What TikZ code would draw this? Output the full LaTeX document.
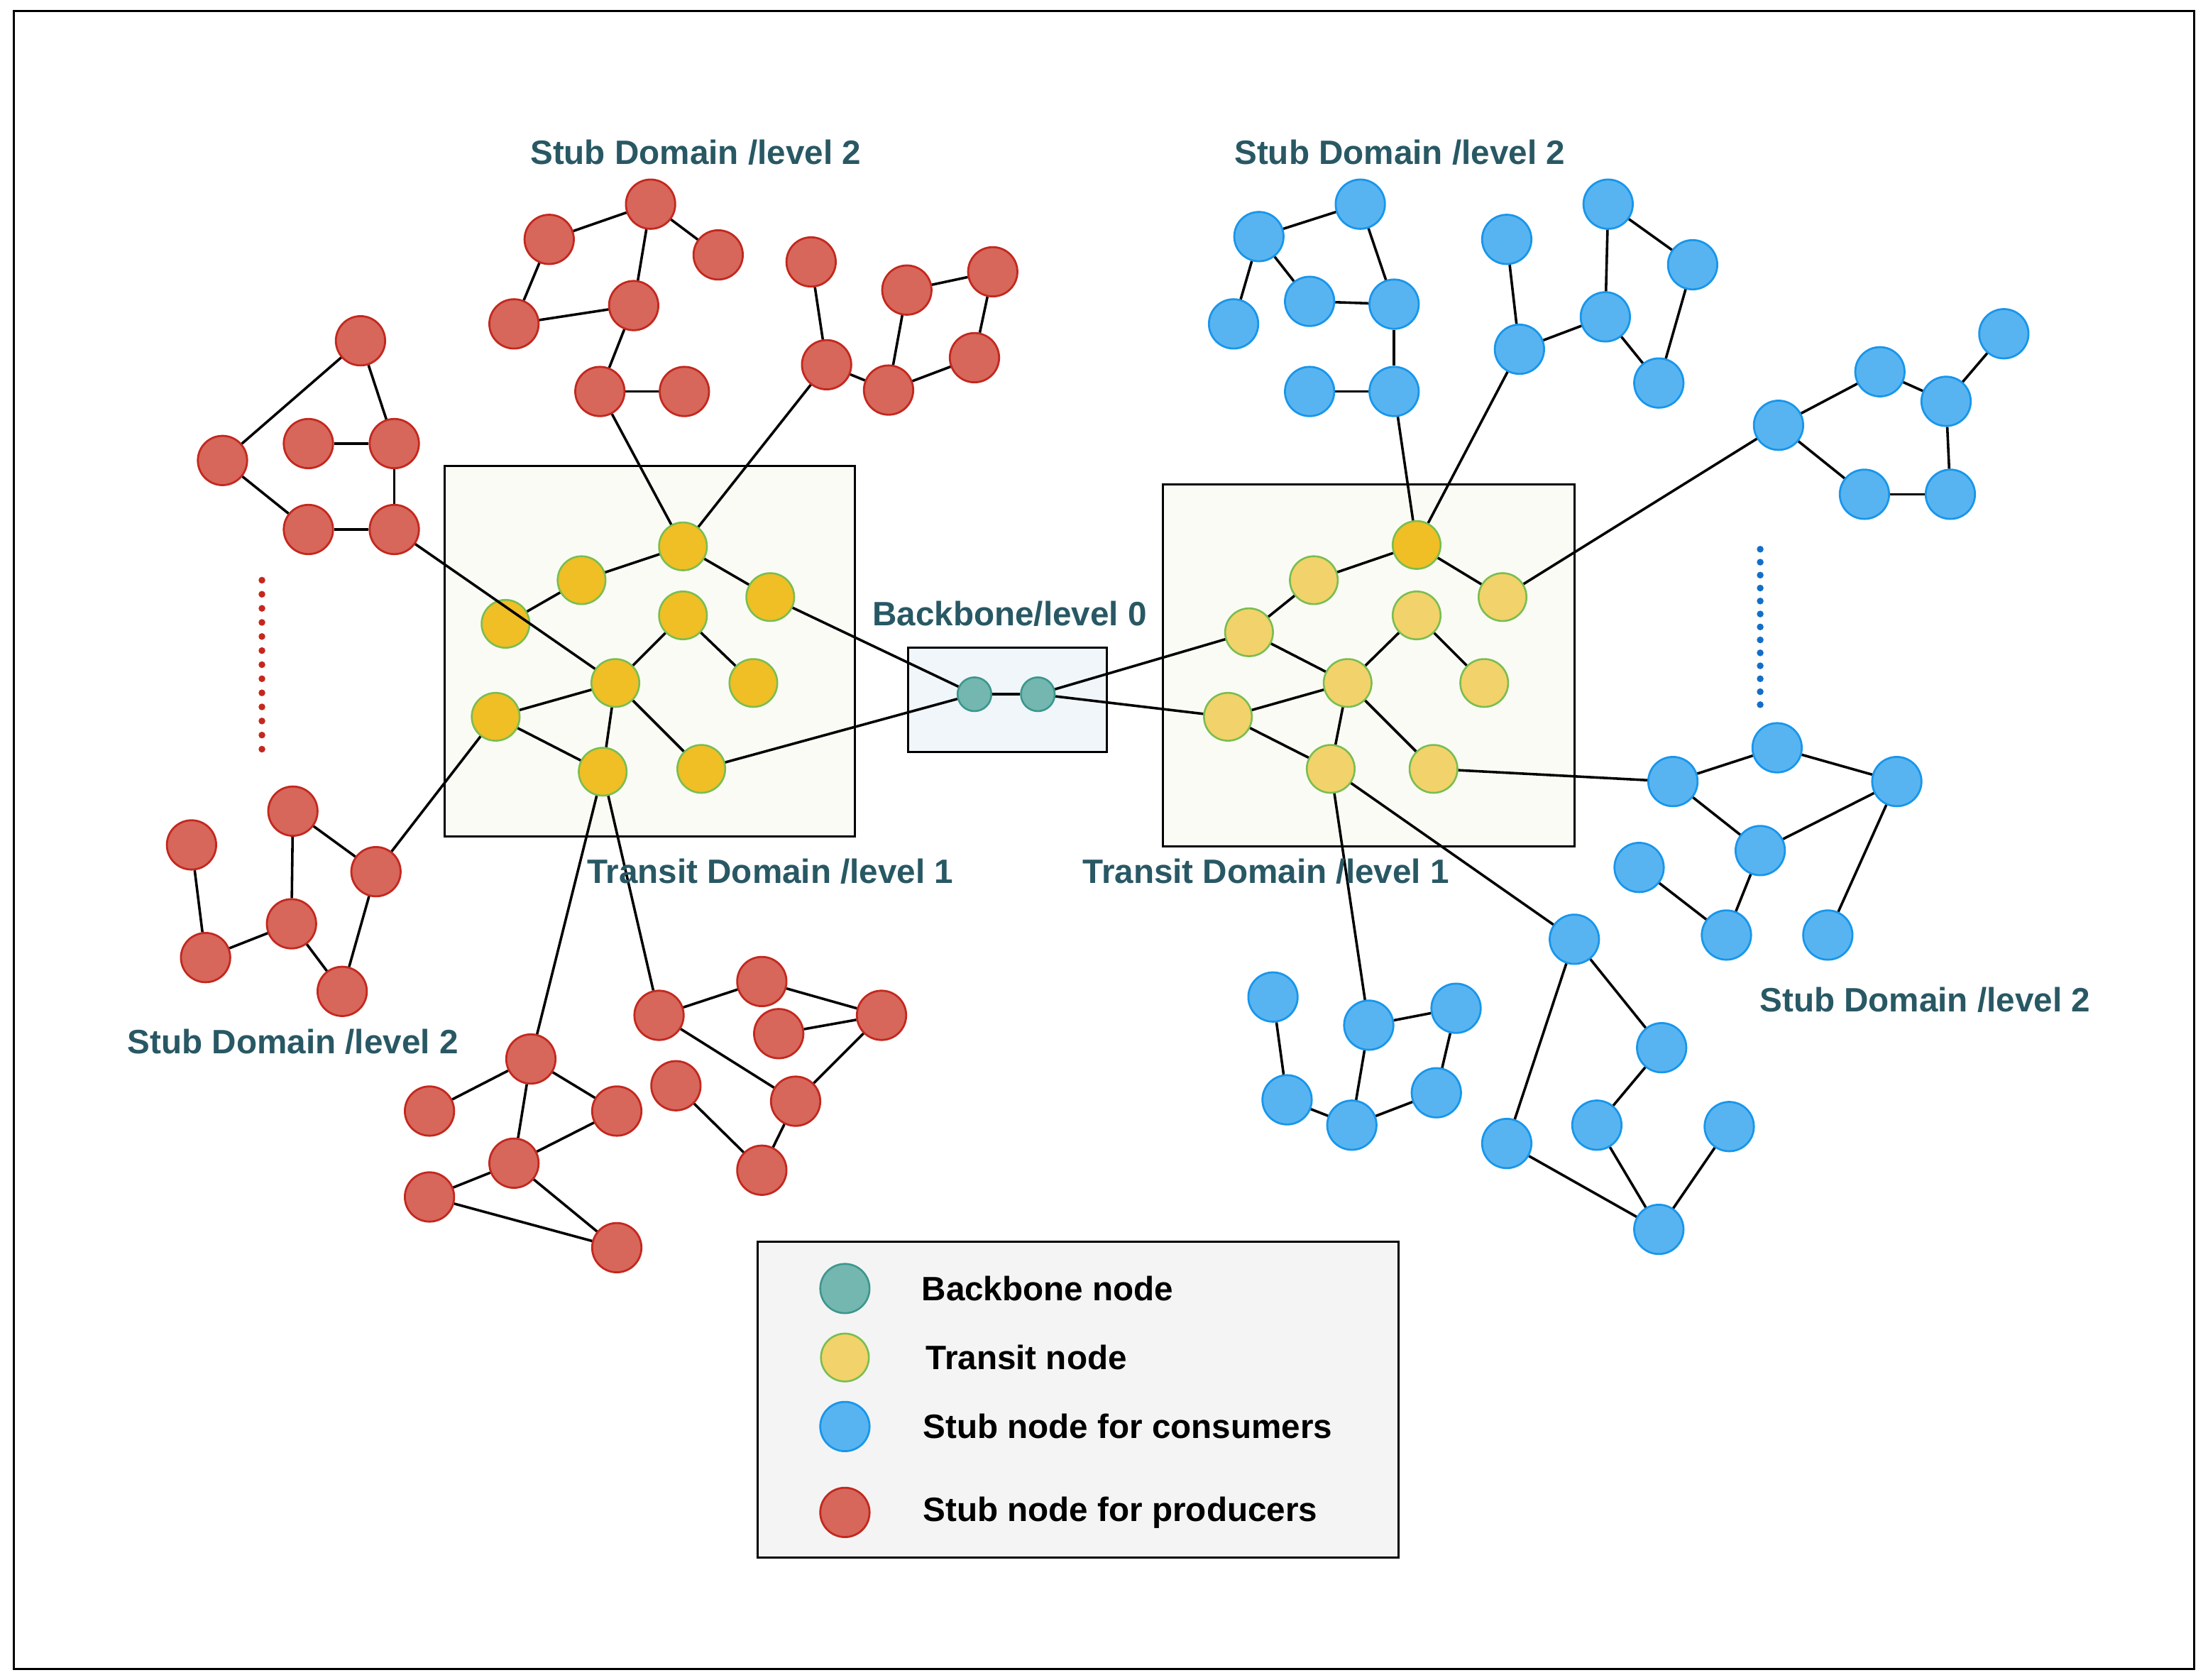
\documentclass[tikz,border=0pt]{standalone}
\usepackage{fontspec}
\setmainfont{Liberation Sans}
\definecolor{rfill}{RGB}{215,102,91}
\definecolor{rdraw}{RGB}{195,40,30}
\definecolor{bfill}{RGB}{88,180,240}
\definecolor{bdraw}{RGB}{24,150,235}
\definecolor{tdraw}{RGB}{120,190,80}
\definecolor{tfill}{RGB}{240,190,37}
\definecolor{tlfill}{RGB}{242,210,106}
\definecolor{bbdraw}{RGB}{60,150,140}
\definecolor{bbfill}{RGB}{115,183,176}
\definecolor{labc}{RGB}{40,88,100}
\definecolor{boxf}{RGB}{251,251,246}
\definecolor{bbox}{RGB}{240,246,250}
\definecolor{legf}{RGB}{244,244,244}
\definecolor{bdot}{RGB}{20,110,200}
\begin{document}
\begin{tikzpicture}[x=1pt,y=-1pt,
 red/.style={circle,draw=rdraw,fill=rfill,line width=1.4pt,minimum size=35pt,inner sep=0},
 blue/.style={circle,draw=bdraw,fill=bfill,line width=1.4pt,minimum size=35pt,inner sep=0},
 tr/.style={circle,draw=tdraw,fill=tfill,line width=1.3pt,minimum size=34pt,inner sep=0},
 tl/.style={tr,fill=tlfill},
 bb/.style={circle,draw=bbdraw,fill=bbfill,line width=1.3pt,minimum size=24pt,inner sep=0},
 lab/.style={text=labc,font=\bfseries\fontsize{24}{28}\selectfont},
 leg/.style={anchor=west,font=\bfseries\fontsize{24}{28}\selectfont},
 e/.style={line width=1.8pt}]
\useasboundingbox (0,0) rectangle (1568,1193);
\draw[line width=1.5pt] (10,8) rectangle (1558,1185);
\draw[line width=1.5pt,fill=boxf] (316,331) rectangle (607,594);
\draw[line width=1.5pt,fill=boxf] (826,344) rectangle (1118,601);
\draw[line width=1.5pt,fill=bbox] (645,460) rectangle (786,534);
\draw[line width=1.5pt,fill=legf] (538,882) rectangle (993,1106);
% red
\foreach \n/\x/\y in {r1/390/170,r2/462/145,r3/510/181,r4/365/230,r5/450/217,r6/426/278,r7/486/278,
 r8/576/186,r9/587/259,r10/644/206,r11/705/193,r12/631/277,r13/692/254,
 r14/256/242,r15/158/327,r16/219/315,r17/280/315,r18/219/376,r19/280/376,
 r20/208/576,r21/136/600,r22/267/619,r23/207/656,r24/146/680,r25/243/704,
 r26/377/752,r27/305/789,r28/438/789,r29/365/826,r30/305/850,r31/438/886,
 r32/541/697,r33/468/721,r34/626/721,r35/553/734,r36/480/771,r37/565/782,r38/541/831}
 \node[red] (\n) at (\x,\y) {};
% blue
\foreach \n/\x/\y in {b1/894/168,b2/966/145,b3/876/230,b4/930/214,b5/990/216,b6/930/278,b7/990/278,
 b8/1070/170,b9/1142/145,b10/1202/188,b11/1079/248,b12/1140/225,b13/1178/272,
 b14/1423/237,b15/1335/264,b16/1263/302,b17/1382/285,b18/1324/351,b19/1385/351,
 b20/1262/531,b21/1188/555,b22/1347/555,b23/1250/604,b24/1164/616,b25/1226/664,b26/1298/664,
 b27/904/708,b28/972/728,b29/1034/716,b30/914/781,b31/960/799,b32/1020/776,
 b33/1118/667,b34/1180/744,b35/1070/812,b36/1134/799,b37/1228/800,b38/1178/873}
 \node[blue] (\n) at (\x,\y) {};
% transit
\foreach \n/\x/\y in {ta/485/388,tb/413/412,tc/359/443,td/547/424,te/485/437,tf/535/485,tg/437/485,th/352/509,ti/428/548,tj/498/546}
 \node[tr] (\n) at (\x,\y) {};
\node[tr] (ua) at (1006,387) {};
\foreach \n/\x/\y in {ub/933/412,uc/887/449,ud/1067/424,ue/1006/437,uf/1054/485,ug/957/485,uh/872/509,ui/945/546,uj/1018/546}
 \node[tl] (\n) at (\x,\y) {};
\node[bb] (bb1) at (692,493) {};
\node[bb] (bb2) at (737,493) {};
% edges
\foreach \a/\b in {r1/r2,r2/r3,r2/r5,r1/r4,r4/r5,r5/r6,r6/r7,r6/ta,
 r8/r9,r9/r12,r12/r10,r10/r11,r11/r13,r13/r12,r9/ta,
 r14/r15,r14/r17,r16/r17,r15/r18,r18/r19,r17/r19,r19/tg,
 r21/r24,r24/r23,r20/r23,r20/r22,r23/r25,r25/r22,r22/th,
 r26/r27,r26/r28,r26/r29,r29/r28,r29/r30,r29/r31,r30/r31,r26/ti,
 r33/r32,r32/r34,r35/r34,r33/r37,r37/r34,r36/r38,r38/r37,r33/ti,
 tc/tb,tb/ta,ta/td,td/bb1,te/tg,te/tf,tg/th,tg/ti,th/ti,tg/tj,tj/bb1,bb1/bb2,
 uc/ub,ub/ua,ua/ud,ue/ug,ue/uf,uc/ug,ug/uh,ug/ui,uh/ui,ug/uj,bb2/uc,bb2/uh,
 b1/b2,b1/b3,b1/b4,b4/b5,b2/b5,b5/b7,b6/b7,b7/ua,
 b8/b11,b11/b12,b9/b12,b9/b10,b12/b13,b10/b13,b11/ua,
 b16/b15,b15/b17,b14/b17,b17/b19,b19/b18,b16/b18,b16/ud,
 b21/b20,b20/b22,b21/b23,b23/b22,b22/b26,b23/b25,b24/b25,b21/uj,
 b27/b30,b30/b31,b28/b31,b28/b29,b29/b32,b32/b31,b28/ui,
 b33/b34,b33/b35,b34/b36,b36/b38,b35/b38,b38/b37,b33/ui}
 \draw[e] (\a) -- (\b);
% dots
\foreach \i in {0,...,12} {
 \fill[rdraw] (186,412+10*\i) circle (2.4);
 \fill[bdot] (1250,390+9.2*\i) circle (2.4);
}
% labels
\node[lab] (l1) at (494,108) {Stub Domain /level 2};
\node[lab] (l2) at (994,108) {Stub Domain /level 2};
\node[lab] (l3) at (208,740) {Stub Domain /level 2};
\node[lab] (l4) at (1367,710) {Stub Domain /level 2};
\node[lab] (l5) at (547,619) {Transit Domain /level 1};
\node[lab] (l6) at (899,619) {Transit Domain /level 1};
\node[lab] (l7) at (717,436) {Backbone/level 0};
% legend
\node[bb,minimum size=35pt] (g1) at (600,915) {};
\node[tl] (g2) at (600,964) {};
\node[blue] (g3) at (600,1013) {};
\node[red] (g4) at (600,1074) {};
\node[leg] (t1) at (651,915) {Backbone node};
\node[leg] (t2) at (654,964) {Transit node};
\node[leg] (t3) at (652,1013) {Stub node for consumers};
\node[leg] (t4) at (652,1074) {Stub node for producers};
\end{tikzpicture}
\end{document}
